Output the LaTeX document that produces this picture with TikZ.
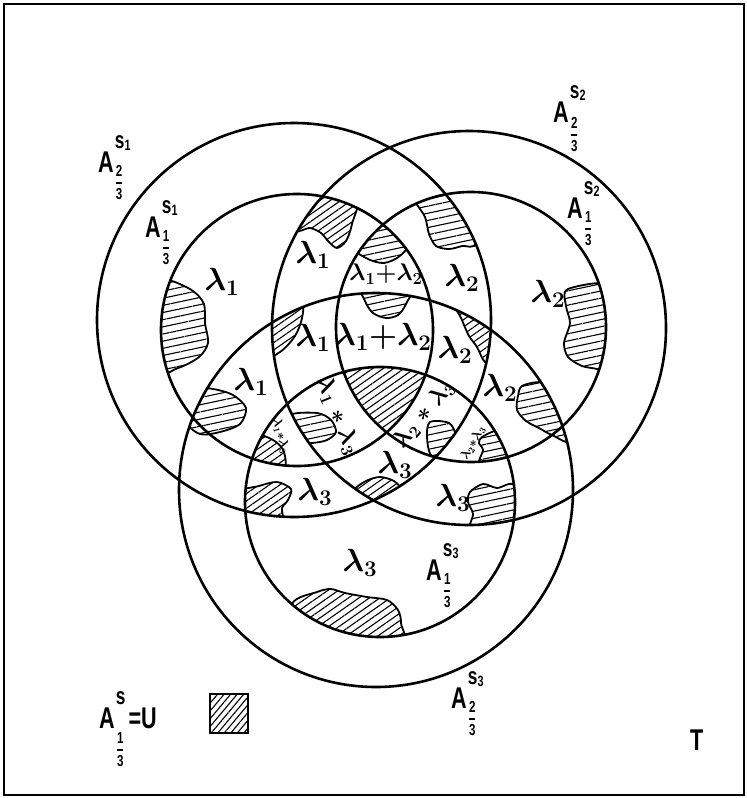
\RequirePackage{fix-cm}
\documentclass[tikz,border=0pt]{standalone}
\usepackage{amsmath}
\usepackage{fontspec}
\newfontfamily\labfont[FakeStretch=0.72]{Liberation Sans}
\usetikzlibrary{patterns.meta}

% A^{s}_{p/q}: index, Zaehler, Nenner, Absenkung des Bruchs
\newcommand\Aset[4]{%
  A\kern1pt\rlap{\raisebox{24pt}{\fontsize{24}{24}\selectfont s\kern0.3pt\raisebox{-2pt}{\fontsize{15}{15}\selectfont #1}}}%
  \raisebox{-#4}{\fontsize{16}{16}\selectfont$\genfrac{}{}{1.4pt}{0}{\text{#2}}{\text{#3}}$}}

\tikzset{
  ring/.style={line width=2.6pt},
  hatch/.style={line width=1.8pt, pattern={Lines[angle=12,distance=7pt,line width=1.1pt]}},
  hatchd/.style={line width=1.8pt, pattern={Lines[angle=35,distance=6pt,line width=1.1pt]}},
  lam/.style={inner sep=0pt, font=\fontsize{32}{34}\selectfont\boldmath},
  lamsm/.style={inner sep=0pt, font=\fontsize{24}{26}\selectfont\boldmath},
  lamxs/.style={inner sep=0pt, font=\fontsize{13}{14}\selectfont\boldmath},
  setlab/.style={anchor=base west, inner sep=0pt, font=\labfont\bfseries\fontsize{30}{32}\selectfont},
}

\begin{document}
\begin{tikzpicture}[x=1pt,y=-1pt]
\useasboundingbox (0,0) rectangle (747,798);
% 外框
\draw[line width=1.6pt] (4,4) rectangle (744,795);
% 圆心
\coordinate (c1o) at (294,320);
\coordinate (c1i) at (297,330);
\coordinate (c2o) at (469,328);
\coordinate (c2i) at (471,327);
\coordinate (c3o) at (376,490);
\coordinate (c3i) at (380,502);

% 三个内圆的公共部分 (U)
\begin{scope}
  \clip (c1i) circle[radius=136];
  \clip (c2i) circle[radius=135];
  \fill[pattern={Lines[angle=35,distance=6pt,line width=1.1pt]}] (c3i) circle[radius=135];
\end{scope}

% 阴影斑块
\begin{scope}
  \clip (c1i) circle[radius=136];
  \draw[hatch] plot[smooth cycle] coordinates {(150,278) (172,281) (193,291) (204,304) (205,323) (208,343) (199,357) (178,368) (150,372)};
\end{scope}
\begin{scope}
  \clip (c2o) circle[radius=197];
  \clip (c3o) circle[radius=197];
  \draw[hatchd] plot[smooth cycle] coordinates {(262,298) (300,303) (302,318) (295,336) (280,352) (262,356)};
\end{scope}
\begin{scope}
  \clip (c3o) circle[radius=197];
  \draw[hatch] plot[smooth cycle] coordinates {(188,388) (213,389) (233,395) (246,408) (240,424) (220,432) (200,434) (185,420)};
\end{scope}
\begin{scope}
  \clip (c1i) circle[radius=136];
  \clip (c2o) circle[radius=197];
  \draw[hatchd] plot[smooth cycle] coordinates {(296,185) (356,192) (352,224) (346,241) (337,248) (329,242) (321,233) (310,228) (294,229)};
\end{scope}
\begin{scope}
  \clip (c1i) circle[radius=136];
  \clip (c2i) circle[radius=135];
  \draw[hatch] plot[smooth cycle] coordinates {(383,212) (412,236) (401,255) (384,263) (366,258) (352,244)};
\end{scope}
\begin{scope}
  \clip (c2i) circle[radius=135];
  \clip (c1o) circle[radius=197];
  \draw[hatch] plot[smooth cycle] coordinates {(413,190) (472,186) (476,242) (462,246) (449,249) (436,246) (429,234) (425,217)};
\end{scope}
\begin{scope}
  \clip (c3o) circle[radius=197];
  \draw[hatch] plot[smooth cycle] coordinates {(362,283) (412,283) (406,304) (398,315) (386,318) (373,313) (365,301)};
\end{scope}
\begin{scope}
  \clip (c3o) circle[radius=197];
  \clip (c1o) circle[radius=197];
  \draw[hatchd] plot[smooth cycle] coordinates {(455,300) (505,318) (500,365) (485,362) (477,347) (469,336) (462,320)};
\end{scope}
\begin{scope}
  \clip (c2i) circle[radius=135];
  \draw[hatch] plot[smooth cycle] coordinates {(568,289) (615,285) (625,330) (615,375) (597,369) (582,366) (568,357) (564,343) (570,323) (566,306)};
\end{scope}
\begin{scope}
  \clip (c3o) circle[radius=197];
  \draw[hatch] plot[smooth cycle] coordinates {(522,386) (540,382) (570,385) (572,440) (552,435) (539,428) (526,421) (517,410) (518,396)};
\end{scope}
\begin{scope}
  \clip (c2o) circle[radius=197];
  \draw[hatch] plot[smooth cycle] coordinates {(288,416) (317,413) (331,420) (336,432) (327,440) (312,443) (288,443)};
\end{scope}
\begin{scope}
  \clip (c3i) circle[radius=135];
  \clip (c1i) circle[radius=136];
  \draw[hatchd] plot[smooth cycle] coordinates {(248,434) (264,436) (276,442) (284,452) (283,470) (248,472)};
\end{scope}
\begin{scope}
  \clip (c1o) circle[radius=197];
  \draw[hatch] plot[smooth cycle] coordinates {(430,422) (449,423) (456,436) (455,456) (432,456) (427,437)};
\end{scope}
\begin{scope}
  \clip (c3i) circle[radius=135];
  \clip (c2i) circle[radius=135];
  \draw[hatch] plot[smooth cycle] coordinates {(482,437) (499,430) (512,438) (512,465) (480,465) (483,450) (479,443)};
\end{scope}
\begin{scope}
  \clip (c3i) circle[radius=135];
  \clip (c1o) circle[radius=197];
  \draw[hatchd] plot[smooth cycle] coordinates {(238,493) (259,486) (277,482) (291,489) (288,500) (282,508) (280,522) (238,522)};
\end{scope}
\begin{scope}
  \clip (c1o) circle[radius=197];
  \clip (c2o) circle[radius=197];
  \draw[hatchd] plot[smooth cycle] coordinates {(353,491) (366,481) (380,477) (394,481) (400,489) (396,508) (350,508)};
\end{scope}
\begin{scope}
  \clip (c3i) circle[radius=135];
  \clip (c2o) circle[radius=197];
  \draw[hatch] plot[smooth cycle] coordinates {(470,492) (483,484) (497,488) (515,486) (522,532) (472,532) (473,514) (468,502)};
\end{scope}
\begin{scope}
  \clip (c3i) circle[radius=135];
  \draw[hatchd] plot[smooth cycle] coordinates {(292,604) (317,592) (331,589) (345,593) (367,597) (387,600) (398,610) (401,623) (398,648) (292,648)};
\end{scope}

% 圆
\draw[ring] (c1o) circle[radius=197];
\draw[ring] (c1i) circle[radius=136];
\draw[ring] (c2o) circle[radius=197];
\draw[ring] (c2i) circle[radius=135];
\draw[ring] (c3o) circle[radius=197];
\draw[ring] (c3i) circle[radius=135];

% 集合标记
\node[setlab] (a1o) at (98,172) {\Aset{1}{2}{3}{15pt}};
\node[setlab] (a1i) at (145,237) {\Aset{1}{1}{3}{15pt}};
\node[setlab] (a2o) at (553,122) {\Aset{2}{2}{3}{17pt}};
\node[setlab] (a2i) at (567,218) {\Aset{2}{1}{3}{15pt}};
\node[setlab] (a3i) at (426,580) {\Aset{3}{1}{3}{15pt}};
\node[setlab] (a3o) at (451,708) {\Aset{3}{2}{3}{15pt}};
\node[setlab] (tset) at (690,750) {T};

% 图例
\node[setlab] (leg) at (99,728) {A\kern1pt\rlap{\raisebox{24pt}{\fontsize{24}{24}\selectfont s}}\raisebox{-26pt}{\fontsize{16}{16}\selectfont$\genfrac{}{}{1.4pt}{0}{\text{1}}{\text{3}}$}\kern4pt=U};
\draw[line width=2pt, pattern={Lines[angle=50,distance=5pt,line width=1.1pt]}] (210,694) rectangle (248,733);

% lambda
\node[lam] (l1a) at (222,282) {$\lambda_1$};
\node[lam] (l1b) at (313,255) {$\lambda_1$};
\node[lamsm] (l12a) at (386,274) {$\lambda_1{+}\lambda_2$};
\node[lam] (l2a) at (462,278) {$\lambda_2$};
\node[lam] (l2b) at (548,294) {$\lambda_2$};
\node[lam] (l1c) at (313,338) {$\lambda_1$};
\node[lam] (l12b) at (383,337) {$\lambda_1{+}\lambda_2$};
\node[lam] (l2c) at (455,350) {$\lambda_2$};
\node[lam] (l1d) at (251,382) {$\lambda_1$};
\node[lam] (l2d) at (500,388) {$\lambda_2$};
\node[lam] (l3a) at (395,465) {$\lambda_3$};
\node[lam] (l3b) at (315,492) {$\lambda_3$};
\node[lam] (l3c) at (453,498) {$\lambda_3$};
\node[lam] (l3d) at (360,563) {$\lambda_3$};
\node[lamsm, rotate=-68] (l13a) at (338,416) {$\lambda_1\;{\ast}\;\lambda_3$};
\node[lamsm, rotate=50] (l23a) at (424,414) {$\lambda_2\;{\ast}\;\lambda_3$};
\node[lamxs, rotate=-75] (l13b) at (281,436) {$\lambda_1{\ast}\lambda_3$};
\node[lamxs, rotate=60] (l23b) at (473,443) {$\lambda_2{\ast}\lambda_3$};
\end{tikzpicture}
\end{document}
